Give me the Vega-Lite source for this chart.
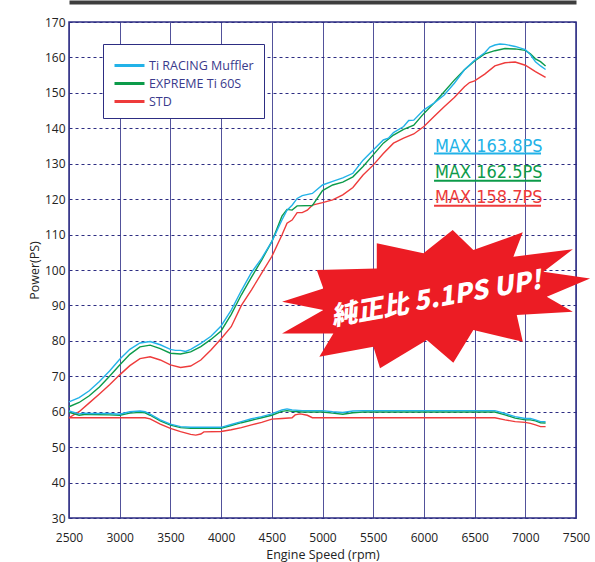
{
  "$schema": "https://vega.github.io/schema/vega-lite/v6.json",
  "width": 507,
  "height": 496,
  "autosize": {"type": "none"},
  "padding": {"left": 69, "top": 22, "right": 19, "bottom": 44},
  "background": "white",
  "config": {"view": {"stroke": "#2d2d82", "strokeWidth": 1.5}, "font": "Open Sans"},
  "datasets": {
    "curves": [
      {"series": "STD", "kind": "power", "rpm": 2500, "ps": 58.3},
      {"series": "STD", "kind": "power", "rpm": 2600, "ps": 60.0},
      {"series": "STD", "kind": "power", "rpm": 2700, "ps": 62.5},
      {"series": "STD", "kind": "power", "rpm": 2800, "ps": 65.0},
      {"series": "STD", "kind": "power", "rpm": 2900, "ps": 67.6},
      {"series": "STD", "kind": "power", "rpm": 3000, "ps": 70.4},
      {"series": "STD", "kind": "power", "rpm": 3100, "ps": 73.0},
      {"series": "STD", "kind": "power", "rpm": 3200, "ps": 75.0},
      {"series": "STD", "kind": "power", "rpm": 3300, "ps": 75.5},
      {"series": "STD", "kind": "power", "rpm": 3400, "ps": 74.6},
      {"series": "STD", "kind": "power", "rpm": 3500, "ps": 73.2},
      {"series": "STD", "kind": "power", "rpm": 3600, "ps": 72.5},
      {"series": "STD", "kind": "power", "rpm": 3700, "ps": 72.9},
      {"series": "STD", "kind": "power", "rpm": 3800, "ps": 74.6},
      {"series": "STD", "kind": "power", "rpm": 3900, "ps": 77.4},
      {"series": "STD", "kind": "power", "rpm": 4000, "ps": 80.6},
      {"series": "STD", "kind": "power", "rpm": 4100, "ps": 84.0},
      {"series": "STD", "kind": "power", "rpm": 4200, "ps": 90.0},
      {"series": "STD", "kind": "power", "rpm": 4300, "ps": 94.4},
      {"series": "STD", "kind": "power", "rpm": 4400, "ps": 99.1},
      {"series": "STD", "kind": "power", "rpm": 4500, "ps": 103.8},
      {"series": "STD", "kind": "power", "rpm": 4600, "ps": 109.9},
      {"series": "STD", "kind": "power", "rpm": 4650, "ps": 113.2},
      {"series": "STD", "kind": "power", "rpm": 4700, "ps": 114.1},
      {"series": "STD", "kind": "power", "rpm": 4750, "ps": 116.2},
      {"series": "STD", "kind": "power", "rpm": 4800, "ps": 116.2},
      {"series": "STD", "kind": "power", "rpm": 4850, "ps": 116.9},
      {"series": "STD", "kind": "power", "rpm": 4900, "ps": 118.3},
      {"series": "STD", "kind": "power", "rpm": 5000, "ps": 119.0},
      {"series": "STD", "kind": "power", "rpm": 5100, "ps": 119.8},
      {"series": "STD", "kind": "power", "rpm": 5200, "ps": 121.2},
      {"series": "STD", "kind": "power", "rpm": 5300, "ps": 123.3},
      {"series": "STD", "kind": "power", "rpm": 5400, "ps": 126.8},
      {"series": "STD", "kind": "power", "rpm": 5500, "ps": 129.6},
      {"series": "STD", "kind": "power", "rpm": 5600, "ps": 132.9},
      {"series": "STD", "kind": "power", "rpm": 5700, "ps": 135.8},
      {"series": "STD", "kind": "power", "rpm": 5800, "ps": 137.2},
      {"series": "STD", "kind": "power", "rpm": 5900, "ps": 138.4},
      {"series": "STD", "kind": "power", "rpm": 6000, "ps": 140.5},
      {"series": "STD", "kind": "power", "rpm": 6100, "ps": 143.3},
      {"series": "STD", "kind": "power", "rpm": 6200, "ps": 146.1},
      {"series": "STD", "kind": "power", "rpm": 6300, "ps": 148.7},
      {"series": "STD", "kind": "power", "rpm": 6400, "ps": 151.7},
      {"series": "STD", "kind": "power", "rpm": 6450, "ps": 152.9},
      {"series": "STD", "kind": "power", "rpm": 6500, "ps": 153.4},
      {"series": "STD", "kind": "power", "rpm": 6600, "ps": 155.3},
      {"series": "STD", "kind": "power", "rpm": 6700, "ps": 157.6},
      {"series": "STD", "kind": "power", "rpm": 6800, "ps": 158.5},
      {"series": "STD", "kind": "power", "rpm": 6900, "ps": 158.7},
      {"series": "STD", "kind": "power", "rpm": 7000, "ps": 157.8},
      {"series": "STD", "kind": "power", "rpm": 7100, "ps": 156.0},
      {"series": "STD", "kind": "power", "rpm": 7200, "ps": 154.4},

      {"series": "STD", "kind": "low", "rpm": 2500, "ps": 58.3},
      {"series": "STD", "kind": "low", "rpm": 3250, "ps": 58.3},
      {"series": "STD", "kind": "low", "rpm": 3300, "ps": 58.0},
      {"series": "STD", "kind": "low", "rpm": 3400, "ps": 56.5},
      {"series": "STD", "kind": "low", "rpm": 3500, "ps": 55.3},
      {"series": "STD", "kind": "low", "rpm": 3600, "ps": 54.4},
      {"series": "STD", "kind": "low", "rpm": 3700, "ps": 53.6},
      {"series": "STD", "kind": "low", "rpm": 3750, "ps": 53.4},
      {"series": "STD", "kind": "low", "rpm": 3800, "ps": 53.7},
      {"series": "STD", "kind": "low", "rpm": 3830, "ps": 54.3},
      {"series": "STD", "kind": "low", "rpm": 4000, "ps": 54.4},
      {"series": "STD", "kind": "low", "rpm": 4100, "ps": 54.9},
      {"series": "STD", "kind": "low", "rpm": 4200, "ps": 55.5},
      {"series": "STD", "kind": "low", "rpm": 4300, "ps": 56.3},
      {"series": "STD", "kind": "low", "rpm": 4400, "ps": 57.0},
      {"series": "STD", "kind": "low", "rpm": 4500, "ps": 57.9},
      {"series": "STD", "kind": "low", "rpm": 4600, "ps": 58.1},
      {"series": "STD", "kind": "low", "rpm": 4700, "ps": 58.3},
      {"series": "STD", "kind": "low", "rpm": 4730, "ps": 59.1},
      {"series": "STD", "kind": "low", "rpm": 4780, "ps": 59.4},
      {"series": "STD", "kind": "low", "rpm": 4850, "ps": 59.0},
      {"series": "STD", "kind": "low", "rpm": 4900, "ps": 58.3},
      {"series": "STD", "kind": "low", "rpm": 6700, "ps": 58.3},
      {"series": "STD", "kind": "low", "rpm": 6800, "ps": 57.7},
      {"series": "STD", "kind": "low", "rpm": 6900, "ps": 57.2},
      {"series": "STD", "kind": "low", "rpm": 7000, "ps": 57.0},
      {"series": "STD", "kind": "low", "rpm": 7050, "ps": 56.7},
      {"series": "STD", "kind": "low", "rpm": 7100, "ps": 56.3},
      {"series": "STD", "kind": "low", "rpm": 7150, "ps": 55.8},
      {"series": "STD", "kind": "low", "rpm": 7200, "ps": 55.8},

      {"series": "EXPREME Ti 60S", "kind": "power", "rpm": 2500, "ps": 61.4},
      {"series": "EXPREME Ti 60S", "kind": "power", "rpm": 2600, "ps": 62.6},
      {"series": "EXPREME Ti 60S", "kind": "power", "rpm": 2700, "ps": 64.5},
      {"series": "EXPREME Ti 60S", "kind": "power", "rpm": 2800, "ps": 67.0},
      {"series": "EXPREME Ti 60S", "kind": "power", "rpm": 2900, "ps": 70.0},
      {"series": "EXPREME Ti 60S", "kind": "power", "rpm": 3000, "ps": 73.2},
      {"series": "EXPREME Ti 60S", "kind": "power", "rpm": 3100, "ps": 76.2},
      {"series": "EXPREME Ti 60S", "kind": "power", "rpm": 3200, "ps": 78.3},
      {"series": "EXPREME Ti 60S", "kind": "power", "rpm": 3300, "ps": 78.8},
      {"series": "EXPREME Ti 60S", "kind": "power", "rpm": 3400, "ps": 77.8},
      {"series": "EXPREME Ti 60S", "kind": "power", "rpm": 3500, "ps": 76.5},
      {"series": "EXPREME Ti 60S", "kind": "power", "rpm": 3600, "ps": 76.3},
      {"series": "EXPREME Ti 60S", "kind": "power", "rpm": 3700, "ps": 76.9},
      {"series": "EXPREME Ti 60S", "kind": "power", "rpm": 3800, "ps": 78.4},
      {"series": "EXPREME Ti 60S", "kind": "power", "rpm": 3900, "ps": 80.4},
      {"series": "EXPREME Ti 60S", "kind": "power", "rpm": 4000, "ps": 82.8},
      {"series": "EXPREME Ti 60S", "kind": "power", "rpm": 4100, "ps": 87.5},
      {"series": "EXPREME Ti 60S", "kind": "power", "rpm": 4200, "ps": 93.0},
      {"series": "EXPREME Ti 60S", "kind": "power", "rpm": 4300, "ps": 98.0},
      {"series": "EXPREME Ti 60S", "kind": "power", "rpm": 4400, "ps": 102.8},
      {"series": "EXPREME Ti 60S", "kind": "power", "rpm": 4500, "ps": 108.0},
      {"series": "EXPREME Ti 60S", "kind": "power", "rpm": 4600, "ps": 115.2},
      {"series": "EXPREME Ti 60S", "kind": "power", "rpm": 4650, "ps": 117.1},
      {"series": "EXPREME Ti 60S", "kind": "power", "rpm": 4700, "ps": 116.9},
      {"series": "EXPREME Ti 60S", "kind": "power", "rpm": 4750, "ps": 118.1},
      {"series": "EXPREME Ti 60S", "kind": "power", "rpm": 4900, "ps": 118.2},
      {"series": "EXPREME Ti 60S", "kind": "power", "rpm": 5000, "ps": 122.4},
      {"series": "EXPREME Ti 60S", "kind": "power", "rpm": 5100, "ps": 124.0},
      {"series": "EXPREME Ti 60S", "kind": "power", "rpm": 5200, "ps": 124.8},
      {"series": "EXPREME Ti 60S", "kind": "power", "rpm": 5300, "ps": 126.3},
      {"series": "EXPREME Ti 60S", "kind": "power", "rpm": 5400, "ps": 129.2},
      {"series": "EXPREME Ti 60S", "kind": "power", "rpm": 5500, "ps": 132.5},
      {"series": "EXPREME Ti 60S", "kind": "power", "rpm": 5600, "ps": 135.8},
      {"series": "EXPREME Ti 60S", "kind": "power", "rpm": 5700, "ps": 138.1},
      {"series": "EXPREME Ti 60S", "kind": "power", "rpm": 5800, "ps": 139.7},
      {"series": "EXPREME Ti 60S", "kind": "power", "rpm": 5900, "ps": 140.9},
      {"series": "EXPREME Ti 60S", "kind": "power", "rpm": 6000, "ps": 144.2},
      {"series": "EXPREME Ti 60S", "kind": "power", "rpm": 6100, "ps": 147.1},
      {"series": "EXPREME Ti 60S", "kind": "power", "rpm": 6200, "ps": 150.3},
      {"series": "EXPREME Ti 60S", "kind": "power", "rpm": 6300, "ps": 153.6},
      {"series": "EXPREME Ti 60S", "kind": "power", "rpm": 6400, "ps": 156.5},
      {"series": "EXPREME Ti 60S", "kind": "power", "rpm": 6500, "ps": 159.0},
      {"series": "EXPREME Ti 60S", "kind": "power", "rpm": 6600, "ps": 161.0},
      {"series": "EXPREME Ti 60S", "kind": "power", "rpm": 6700, "ps": 161.9},
      {"series": "EXPREME Ti 60S", "kind": "power", "rpm": 6800, "ps": 162.5},
      {"series": "EXPREME Ti 60S", "kind": "power", "rpm": 6900, "ps": 162.4},
      {"series": "EXPREME Ti 60S", "kind": "power", "rpm": 7000, "ps": 162.0},
      {"series": "EXPREME Ti 60S", "kind": "power", "rpm": 7050, "ps": 161.0},
      {"series": "EXPREME Ti 60S", "kind": "power", "rpm": 7100, "ps": 159.6},
      {"series": "EXPREME Ti 60S", "kind": "power", "rpm": 7150, "ps": 158.8},
      {"series": "EXPREME Ti 60S", "kind": "power", "rpm": 7200, "ps": 157.6},

      {"series": "EXPREME Ti 60S", "kind": "low", "rpm": 2500, "ps": 59.8},
      {"series": "EXPREME Ti 60S", "kind": "low", "rpm": 2600, "ps": 59.0},
      {"series": "EXPREME Ti 60S", "kind": "low", "rpm": 2650, "ps": 59.2},
      {"series": "EXPREME Ti 60S", "kind": "low", "rpm": 2700, "ps": 59.2},
      {"series": "EXPREME Ti 60S", "kind": "low", "rpm": 2900, "ps": 59.1},
      {"series": "EXPREME Ti 60S", "kind": "low", "rpm": 3000, "ps": 59.0},
      {"series": "EXPREME Ti 60S", "kind": "low", "rpm": 3100, "ps": 59.6},
      {"series": "EXPREME Ti 60S", "kind": "low", "rpm": 3200, "ps": 59.8},
      {"series": "EXPREME Ti 60S", "kind": "low", "rpm": 3250, "ps": 59.7},
      {"series": "EXPREME Ti 60S", "kind": "low", "rpm": 3300, "ps": 59.0},
      {"series": "EXPREME Ti 60S", "kind": "low", "rpm": 3400, "ps": 57.4},
      {"series": "EXPREME Ti 60S", "kind": "low", "rpm": 3500, "ps": 56.2},
      {"series": "EXPREME Ti 60S", "kind": "low", "rpm": 3600, "ps": 55.5},
      {"series": "EXPREME Ti 60S", "kind": "low", "rpm": 3700, "ps": 55.3},
      {"series": "EXPREME Ti 60S", "kind": "low", "rpm": 4000, "ps": 55.3},
      {"series": "EXPREME Ti 60S", "kind": "low", "rpm": 4100, "ps": 56.1},
      {"series": "EXPREME Ti 60S", "kind": "low", "rpm": 4200, "ps": 56.9},
      {"series": "EXPREME Ti 60S", "kind": "low", "rpm": 4300, "ps": 57.6},
      {"series": "EXPREME Ti 60S", "kind": "low", "rpm": 4400, "ps": 58.3},
      {"series": "EXPREME Ti 60S", "kind": "low", "rpm": 4500, "ps": 59.0},
      {"series": "EXPREME Ti 60S", "kind": "low", "rpm": 4600, "ps": 60.1},
      {"series": "EXPREME Ti 60S", "kind": "low", "rpm": 4650, "ps": 60.3},
      {"series": "EXPREME Ti 60S", "kind": "low", "rpm": 4700, "ps": 60.1},
      {"series": "EXPREME Ti 60S", "kind": "low", "rpm": 4800, "ps": 59.9},
      {"series": "EXPREME Ti 60S", "kind": "low", "rpm": 5000, "ps": 59.9},
      {"series": "EXPREME Ti 60S", "kind": "low", "rpm": 5100, "ps": 59.6},
      {"series": "EXPREME Ti 60S", "kind": "low", "rpm": 5200, "ps": 59.3},
      {"series": "EXPREME Ti 60S", "kind": "low", "rpm": 5300, "ps": 59.7},
      {"series": "EXPREME Ti 60S", "kind": "low", "rpm": 5400, "ps": 59.9},
      {"series": "EXPREME Ti 60S", "kind": "low", "rpm": 6700, "ps": 59.9},
      {"series": "EXPREME Ti 60S", "kind": "low", "rpm": 6800, "ps": 59.1},
      {"series": "EXPREME Ti 60S", "kind": "low", "rpm": 6900, "ps": 58.2},
      {"series": "EXPREME Ti 60S", "kind": "low", "rpm": 7000, "ps": 57.7},
      {"series": "EXPREME Ti 60S", "kind": "low", "rpm": 7050, "ps": 57.7},
      {"series": "EXPREME Ti 60S", "kind": "low", "rpm": 7100, "ps": 57.4},
      {"series": "EXPREME Ti 60S", "kind": "low", "rpm": 7150, "ps": 56.9},
      {"series": "EXPREME Ti 60S", "kind": "low", "rpm": 7200, "ps": 56.8},

      {"series": "Ti RACING Muffler", "kind": "power", "rpm": 2500, "ps": 62.8},
      {"series": "Ti RACING Muffler", "kind": "power", "rpm": 2600, "ps": 64.0},
      {"series": "Ti RACING Muffler", "kind": "power", "rpm": 2700, "ps": 65.9},
      {"series": "Ti RACING Muffler", "kind": "power", "rpm": 2800, "ps": 68.5},
      {"series": "Ti RACING Muffler", "kind": "power", "rpm": 2900, "ps": 71.5},
      {"series": "Ti RACING Muffler", "kind": "power", "rpm": 3000, "ps": 74.8},
      {"series": "Ti RACING Muffler", "kind": "power", "rpm": 3100, "ps": 77.6},
      {"series": "Ti RACING Muffler", "kind": "power", "rpm": 3200, "ps": 79.4},
      {"series": "Ti RACING Muffler", "kind": "power", "rpm": 3300, "ps": 79.8},
      {"series": "Ti RACING Muffler", "kind": "power", "rpm": 3400, "ps": 78.9},
      {"series": "Ti RACING Muffler", "kind": "power", "rpm": 3500, "ps": 77.6},
      {"series": "Ti RACING Muffler", "kind": "power", "rpm": 3550, "ps": 77.3},
      {"series": "Ti RACING Muffler", "kind": "power", "rpm": 3600, "ps": 77.3},
      {"series": "Ti RACING Muffler", "kind": "power", "rpm": 3650, "ps": 77.0},
      {"series": "Ti RACING Muffler", "kind": "power", "rpm": 3700, "ps": 77.6},
      {"series": "Ti RACING Muffler", "kind": "power", "rpm": 3800, "ps": 79.3},
      {"series": "Ti RACING Muffler", "kind": "power", "rpm": 3900, "ps": 81.3},
      {"series": "Ti RACING Muffler", "kind": "power", "rpm": 4000, "ps": 84.2},
      {"series": "Ti RACING Muffler", "kind": "power", "rpm": 4100, "ps": 88.7},
      {"series": "Ti RACING Muffler", "kind": "power", "rpm": 4200, "ps": 94.2},
      {"series": "Ti RACING Muffler", "kind": "power", "rpm": 4300, "ps": 99.3},
      {"series": "Ti RACING Muffler", "kind": "power", "rpm": 4400, "ps": 103.3},
      {"series": "Ti RACING Muffler", "kind": "power", "rpm": 4500, "ps": 108.0},
      {"series": "Ti RACING Muffler", "kind": "power", "rpm": 4600, "ps": 114.1},
      {"series": "Ti RACING Muffler", "kind": "power", "rpm": 4650, "ps": 116.9},
      {"series": "Ti RACING Muffler", "kind": "power", "rpm": 4700, "ps": 118.3},
      {"series": "Ti RACING Muffler", "kind": "power", "rpm": 4750, "ps": 120.2},
      {"series": "Ti RACING Muffler", "kind": "power", "rpm": 4800, "ps": 121.0},
      {"series": "Ti RACING Muffler", "kind": "power", "rpm": 4900, "ps": 121.6},
      {"series": "Ti RACING Muffler", "kind": "power", "rpm": 5000, "ps": 124.0},
      {"series": "Ti RACING Muffler", "kind": "power", "rpm": 5100, "ps": 125.0},
      {"series": "Ti RACING Muffler", "kind": "power", "rpm": 5200, "ps": 126.0},
      {"series": "Ti RACING Muffler", "kind": "power", "rpm": 5300, "ps": 127.3},
      {"series": "Ti RACING Muffler", "kind": "power", "rpm": 5400, "ps": 131.0},
      {"series": "Ti RACING Muffler", "kind": "power", "rpm": 5500, "ps": 133.9},
      {"series": "Ti RACING Muffler", "kind": "power", "rpm": 5600, "ps": 136.7},
      {"series": "Ti RACING Muffler", "kind": "power", "rpm": 5650, "ps": 137.2},
      {"series": "Ti RACING Muffler", "kind": "power", "rpm": 5700, "ps": 138.8},
      {"series": "Ti RACING Muffler", "kind": "power", "rpm": 5800, "ps": 140.5},
      {"series": "Ti RACING Muffler", "kind": "power", "rpm": 5850, "ps": 142.2},
      {"series": "Ti RACING Muffler", "kind": "power", "rpm": 5900, "ps": 142.3},
      {"series": "Ti RACING Muffler", "kind": "power", "rpm": 6000, "ps": 145.2},
      {"series": "Ti RACING Muffler", "kind": "power", "rpm": 6100, "ps": 147.1},
      {"series": "Ti RACING Muffler", "kind": "power", "rpm": 6200, "ps": 149.4},
      {"series": "Ti RACING Muffler", "kind": "power", "rpm": 6300, "ps": 152.7},
      {"series": "Ti RACING Muffler", "kind": "power", "rpm": 6400, "ps": 156.5},
      {"series": "Ti RACING Muffler", "kind": "power", "rpm": 6500, "ps": 159.2},
      {"series": "Ti RACING Muffler", "kind": "power", "rpm": 6600, "ps": 161.3},
      {"series": "Ti RACING Muffler", "kind": "power", "rpm": 6650, "ps": 162.9},
      {"series": "Ti RACING Muffler", "kind": "power", "rpm": 6700, "ps": 163.5},
      {"series": "Ti RACING Muffler", "kind": "power", "rpm": 6750, "ps": 163.8},
      {"series": "Ti RACING Muffler", "kind": "power", "rpm": 6800, "ps": 163.7},
      {"series": "Ti RACING Muffler", "kind": "power", "rpm": 6900, "ps": 163.1},
      {"series": "Ti RACING Muffler", "kind": "power", "rpm": 7000, "ps": 162.2},
      {"series": "Ti RACING Muffler", "kind": "power", "rpm": 7050, "ps": 160.8},
      {"series": "Ti RACING Muffler", "kind": "power", "rpm": 7100, "ps": 158.8},
      {"series": "Ti RACING Muffler", "kind": "power", "rpm": 7150, "ps": 157.6},
      {"series": "Ti RACING Muffler", "kind": "power", "rpm": 7200, "ps": 156.6},

      {"series": "Ti RACING Muffler", "kind": "low", "rpm": 2500, "ps": 60.2},
      {"series": "Ti RACING Muffler", "kind": "low", "rpm": 2600, "ps": 59.4},
      {"series": "Ti RACING Muffler", "kind": "low", "rpm": 2650, "ps": 59.6},
      {"series": "Ti RACING Muffler", "kind": "low", "rpm": 2700, "ps": 59.5},
      {"series": "Ti RACING Muffler", "kind": "low", "rpm": 2900, "ps": 59.5},
      {"series": "Ti RACING Muffler", "kind": "low", "rpm": 3000, "ps": 59.3},
      {"series": "Ti RACING Muffler", "kind": "low", "rpm": 3100, "ps": 60.0},
      {"series": "Ti RACING Muffler", "kind": "low", "rpm": 3200, "ps": 60.2},
      {"series": "Ti RACING Muffler", "kind": "low", "rpm": 3250, "ps": 60.0},
      {"series": "Ti RACING Muffler", "kind": "low", "rpm": 3300, "ps": 59.3},
      {"series": "Ti RACING Muffler", "kind": "low", "rpm": 3400, "ps": 57.7},
      {"series": "Ti RACING Muffler", "kind": "low", "rpm": 3500, "ps": 56.5},
      {"series": "Ti RACING Muffler", "kind": "low", "rpm": 3600, "ps": 55.8},
      {"series": "Ti RACING Muffler", "kind": "low", "rpm": 3700, "ps": 55.6},
      {"series": "Ti RACING Muffler", "kind": "low", "rpm": 4000, "ps": 55.6},
      {"series": "Ti RACING Muffler", "kind": "low", "rpm": 4100, "ps": 56.4},
      {"series": "Ti RACING Muffler", "kind": "low", "rpm": 4200, "ps": 57.2},
      {"series": "Ti RACING Muffler", "kind": "low", "rpm": 4300, "ps": 58.0},
      {"series": "Ti RACING Muffler", "kind": "low", "rpm": 4400, "ps": 58.6},
      {"series": "Ti RACING Muffler", "kind": "low", "rpm": 4500, "ps": 59.4},
      {"series": "Ti RACING Muffler", "kind": "low", "rpm": 4600, "ps": 60.5},
      {"series": "Ti RACING Muffler", "kind": "low", "rpm": 4650, "ps": 60.8},
      {"series": "Ti RACING Muffler", "kind": "low", "rpm": 4700, "ps": 60.5},
      {"series": "Ti RACING Muffler", "kind": "low", "rpm": 4800, "ps": 60.3},
      {"series": "Ti RACING Muffler", "kind": "low", "rpm": 5000, "ps": 60.3},
      {"series": "Ti RACING Muffler", "kind": "low", "rpm": 5100, "ps": 60.0},
      {"series": "Ti RACING Muffler", "kind": "low", "rpm": 5200, "ps": 59.8},
      {"series": "Ti RACING Muffler", "kind": "low", "rpm": 5300, "ps": 60.2},
      {"series": "Ti RACING Muffler", "kind": "low", "rpm": 5400, "ps": 60.3},
      {"series": "Ti RACING Muffler", "kind": "low", "rpm": 6700, "ps": 60.3},
      {"series": "Ti RACING Muffler", "kind": "low", "rpm": 6800, "ps": 59.5},
      {"series": "Ti RACING Muffler", "kind": "low", "rpm": 6900, "ps": 58.6},
      {"series": "Ti RACING Muffler", "kind": "low", "rpm": 7000, "ps": 58.1},
      {"series": "Ti RACING Muffler", "kind": "low", "rpm": 7050, "ps": 58.1},
      {"series": "Ti RACING Muffler", "kind": "low", "rpm": 7100, "ps": 57.7},
      {"series": "Ti RACING Muffler", "kind": "low", "rpm": 7150, "ps": 57.2},
      {"series": "Ti RACING Muffler", "kind": "low", "rpm": 7200, "ps": 57.2}
    ],
    "maxLabels": [
      {"label": "MAX 163.8PS", "series": "Ti RACING Muffler", "rpm": 6109, "ps": 133.4},
      {"label": "MAX 162.5PS", "series": "EXPREME Ti 60S", "rpm": 6109, "ps": 126.05},
      {"label": "MAX 158.7PS", "series": "STD", "rpm": 6109, "ps": 119.0}
    ],
    "underlines": [
      {"series": "Ti RACING Muffler", "rpm": 6100, "rpm2": 7155, "ps": 132.9},
      {"series": "EXPREME Ti 60S", "rpm": 6100, "rpm2": 7155, "ps": 125.2},
      {"series": "STD", "rpm": 6100, "rpm2": 7155, "ps": 118.15}
    ],
    "burst": [
      {"label": "純正比 5.1PS UP!", "rpm": 6120, "ps": 91.8}
    ]
  },
  "encoding": {
    "y": {
      "field": "ps", "type": "quantitative",
      "scale": {"domain": [30, 170], "nice": false, "zero": false},
      "axis": {
        "title": "Power(PS)", "format": "d",
        "values": [30, 40, 50, 60, 70, 80, 90, 100, 110, 120, 130, 140, 150, 160, 170],
        "grid": true, "gridColor": "#2d2d82", "gridDash": [3, 3], "gridWidth": 1,
        "ticks": false, "domain": false, "labelOverlap": false,
        "labelFontSize": 12, "labelColor": "#222222", "labelPadding": 4,
        "titleFontSize": 12.5, "titleFontWeight": "normal", "titleColor": "#222222", "titlePadding": 3
      }
    }
  },
  "layer": [
    {
      "data": {"name": "curves"},
      "mark": {"type": "line", "strokeWidth": 1.4},
      "encoding": {
        "x": {
          "field": "rpm", "type": "quantitative",
          "scale": {"domain": [2500, 7500], "nice": false, "zero": false},
          "axis": {
            "title": "Engine Speed (rpm)", "format": "d",
            "values": [2500, 3000, 3500, 4000, 4500, 5000, 5500, 6000, 6500, 7000, 7500],
            "grid": true, "gridColor": "#34348a", "gridWidth": 1, "gridOpacity": 0.85,
            "ticks": false, "domain": false, "labelOverlap": false,
            "labelFontSize": 12, "labelColor": "#222222", "labelPadding": 14, "labelFlush": false,
            "titleFontSize": 12.5, "titleFontWeight": "normal", "titleColor": "#222222", "titlePadding": 5
          }
        },
        "color": {
          "field": "series", "type": "nominal",
          "scale": {
            "domain": ["Ti RACING Muffler", "EXPREME Ti 60S", "STD"],
            "range": ["#22b2e8", "#0c9b4a", "#ee3b3b"]
          },
          "legend": {
            "title": null, "orient": "none", "legendX": 34, "legendY": 22,
            "symbolType": "M-1,0L2,0", "symbolSize": 400, "symbolStrokeWidth": 3,
            "labelFontSize": 12.5, "labelColor": "#3a3a8c", "labelFont": "Open Sans", "labelOffset": 13,
            "strokeColor": "#2d2d82", "fillColor": "white", "padding": 10, "rowPadding": -3
          }
        },
        "detail": {"field": "kind"}
      }
    },
    {
      "data": {"name": "underlines"},
      "mark": {"type": "rule", "strokeWidth": 2},
      "encoding": {
        "x": {
          "field": "rpm", "type": "quantitative",
          "axis": {"orient": "top", "offset": 20, "labels": false, "ticks": false, "grid": false,
                   "domain": true, "domainWidth": 4, "domainColor": "#3d3d3d", "title": null}
        },
        "x2": {"field": "rpm2"},
        "color": {"field": "series", "type": "nominal"}
      }
    },
    {
      "data": {"name": "maxLabels"},
      "mark": {"type": "text", "align": "left", "baseline": "alphabetic", "fontSize": 18,
               "font": "Liberation Sans Narrow, DejaVu Sans Condensed, sans-serif"},
      "encoding": {
        "x": {"field": "rpm", "type": "quantitative", "axis": null},
        "text": {"field": "label"},
        "color": {"field": "series", "type": "nominal"}
      }
    },
    {
      "data": {"name": "burst"},
      "mark": {
        "type": "point", "filled": true, "fill": "#ec1c24", "opacity": 1, "strokeWidth": 0, "size": 94864,
        "shape": "M0.108,-0.448 L0.242,-0.318 L0.563,-0.433 L0.502,-0.275 L0.888,-0.323 L0.697,-0.177 L1,-0.134 L0.719,-0.015 L0.888,0.082 L0.524,0.104 L0.563,0.277 L0.242,0.201 L0.112,0.414 L-0.06,0.266 L-0.364,0.45 L-0.407,0.31 L-0.758,0.375 L-0.667,0.223 L-1,0.223 L-0.732,0.071 L-1,0.018 L-0.732,-0.069 L-0.775,-0.188 L-0.385,-0.199 L-0.385,-0.362 L-0.082,-0.297 Z"
      },
      "encoding": {
        "x": {"field": "rpm", "type": "quantitative", "axis": null}
      }
    },
    {
      "data": {"name": "burst"},
      "mark": {"type": "text", "align": "center", "baseline": "middle", "fontSize": 26, "angle": -10,
               "font": "Noto Sans CJK JP", "fontWeight": 900, "fontStyle": "italic", "fill": "white", "color": "white"},
      "encoding": {
        "x": {"field": "rpm", "type": "quantitative", "axis": null},
        "text": {"field": "label"}
      }
    }
  ],
  "resolve": {"axis": {"x": "independent"}}
}
